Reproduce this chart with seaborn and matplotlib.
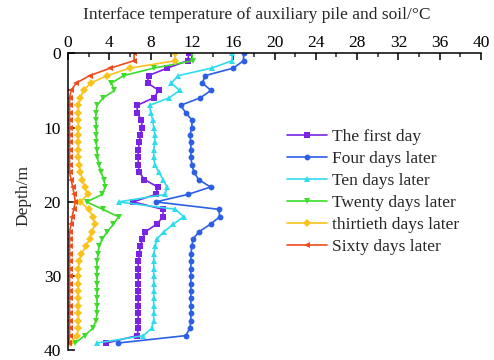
import matplotlib
matplotlib.use("Agg")
import matplotlib.pyplot as plt
from matplotlib.ticker import MultipleLocator
import seaborn as sns
import pandas as pd

# Depth below ground surface (m)
depth = list(range(40))

# Interface temperature (°C) at each depth
first_day = [11.7, 11.6, 9.6, 7.8, 7.7, 8.8, 8.3, 6.7, 6.7, 7.1,
             7.2, 7.0, 6.9, 6.8, 6.8, 6.8, 6.9, 7.4, 8.7, 8.5,
             6.3, 9.2, 9.2, 8.6, 7.5, 7.2, 7.0, 6.9, 6.8, 6.8,
             6.8, 6.8, 6.8, 6.8, 6.8, 6.8, 6.8, 6.8, 6.7, 3.7]
four_days = [17.0, 17.0, 16.0, 13.3, 13.0, 13.85, 12.8, 10.9, 11.4, 12.0,
             12.0, 11.8, 11.9, 11.9, 11.9, 12.0, 12.2, 12.65, 13.8, 11.6,
             8.5, 14.6, 14.7, 13.8, 12.7, 12.1, 12.0, 11.9, 11.9, 11.9,
             11.9, 11.9, 11.9, 11.9, 11.9, 11.9, 11.9, 11.8, 11.4, 4.8]
ten_days = [15.9, 15.9, 13.9, 10.7, 10.0, 10.8, 9.8, 7.9, 8.0, 8.2,
            8.3, 8.4, 8.4, 8.3, 8.3, 8.4, 8.8, 9.2, 9.6, 9.4,
            4.9, 10.4, 11.2, 10.2, 9.3, 8.6, 8.45, 8.3, 8.3, 8.3,
            8.3, 8.3, 8.3, 8.3, 8.3, 8.3, 8.3, 8.1, 7.3, 2.8]
twenty_days = [12.0, 12.1, 8.3, 5.4, 4.2, 4.5, 3.4, 2.8, 2.7, 2.7,
               2.75, 2.75, 2.75, 2.8, 2.85, 3.0, 3.2, 3.5, 3.6, 3.3,
               1.8, 3.35, 4.9, 4.4, 3.8, 3.3, 3.0, 2.9, 2.8, 2.8,
               2.8, 2.8, 2.8, 2.8, 2.8, 2.8, 2.7, 2.4, 1.6, 0.7]
thirty_days = [10.4, 10.4, 6.0, 3.8, 2.2, 1.5, 1.2, 1.0, 1.0, 1.0,
               1.0, 1.0, 1.0, 1.0, 1.0, 1.1, 1.2, 1.4, 1.6, 1.9,
               1.2, 2.0, 2.4, 2.6, 2.3, 2.1, 1.7, 1.3, 1.1, 1.0,
               1.0, 1.0, 1.0, 1.0, 1.0, 1.0, 1.0, 1.0, 0.85, 0.2]
sixty_days = [6.4, 6.4, 4.1, 2.1, 0.8, 0.3, 0.15, 0.15, 0.15, 0.15,
              0.15, 0.15, 0.15, 0.15, 0.15, 0.15, 0.15, 0.3, 0.45, 0.6,
              0.7, 0.55, 0.4, 0.3, 0.15, 0.15, 0.15, 0.15, 0.15, 0.15,
              0.15, 0.15, 0.15, 0.15, 0.15, 0.15, 0.15, 0.15, 0.15, 0.05]

series_names = ["The first day", "Four days later", "Ten days later",
                "Twenty days later", "thirtieth days later", "Sixty days later"]
series_values = [first_day, four_days, ten_days, twenty_days, thirty_days, sixty_days]
colors = ["#7a22e6", "#2b5fe6", "#2fdcee", "#3ddc2a", "#f9c21d", "#ef4d1f"]
markers = ["s", "o", "^", "v", "D", "<"]

records = []
for name, vals in zip(series_names, series_values):
    for d, t in zip(depth, vals):
        records.append({"depth": d, "temp": t, "series": name})
df = pd.DataFrame(records)

sns.set_style("ticks")
plt.rcParams["font.family"] = ["Liberation Serif", "DejaVu Serif"]

FS = 12.5

fig = plt.figure(figsize=(4.94, 3.6), dpi=100)
ax = fig.add_axes([0.1377, 0.0264, 0.836, 0.8256])

for name, col, mk in zip(series_names, colors, markers):
    sub = df[df["series"] == name]
    sns.lineplot(data=sub, x="temp", y="depth", sort=False, estimator=None,
                 color=col, marker=mk, markersize=4.2 if mk != "D" else 3.6,
                 markeredgewidth=0, linewidth=1.2, label=name, ax=ax)

ax.set_xlim(0, 40)
ax.set_ylim(40, 0)

ax.xaxis.set_ticks_position("top")
ax.xaxis.set_label_position("top")
ax.xaxis.set_major_locator(MultipleLocator(4))
ax.xaxis.set_minor_locator(MultipleLocator(2))
ax.yaxis.set_major_locator(MultipleLocator(10))
ax.yaxis.set_minor_locator(MultipleLocator(5))

for side in ["right", "bottom"]:
    ax.spines[side].set_visible(False)
for side in ["left", "top"]:
    ax.spines[side].set_linewidth(1.1)
    ax.spines[side].set_color("black")

ax.tick_params(axis="both", which="major", direction="in", length=5, width=1.1,
               labelsize=FS, colors="black")
ax.tick_params(axis="both", which="minor", direction="in", length=3, width=1.1)
ax.tick_params(axis="x", which="both", top=True, bottom=False, pad=2)
ax.tick_params(axis="y", which="both", left=True, right=False, pad=5)

ax.set_xlabel("Interface temperature of auxiliary pile and soil/°C", fontsize=FS)
ax.xaxis.label.set_va("center")
ax.xaxis.set_label_coords(0.458, 1.128)
ax.set_ylabel("Depth/m", fontsize=FS)
ax.yaxis.label.set_va("center")
ax.yaxis.set_label_coords(-0.108, 0.52)

ax.legend(loc="upper left", bbox_to_anchor=((287 - 68) / 413, 1 - (129 - 53.3) / 297),
          frameon=False, fontsize=FS, handlelength=2.3, handletextpad=0.3,
          labelspacing=0.33, borderpad=0, borderaxespad=0)

fig.savefig("out.png", dpi=100)
